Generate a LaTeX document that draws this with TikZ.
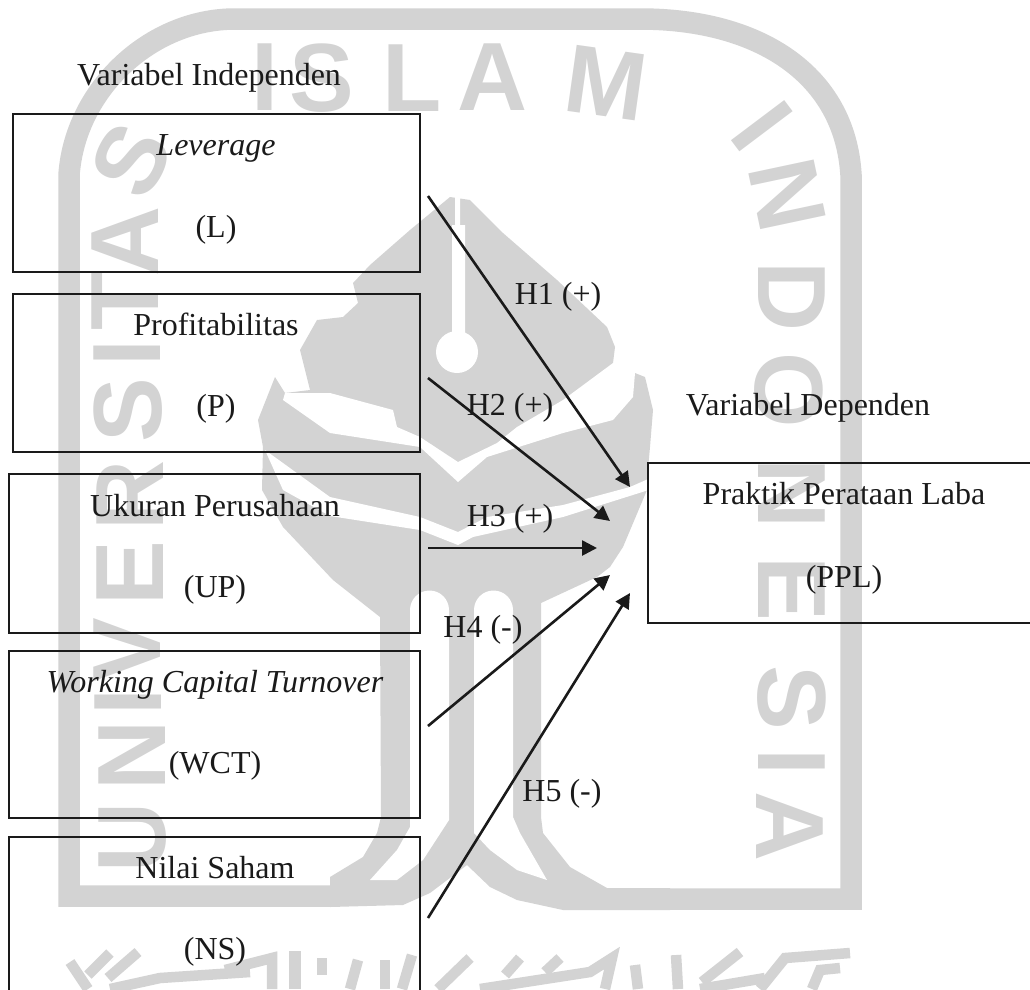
\documentclass[tikz,border=0pt]{standalone}
\usepackage{fontspec}
\setmainfont{Liberation Serif}
\newfontfamily\wmfont{Liberation Sans}
\usetikzlibrary{arrows.meta}
\definecolor{wm}{HTML}{D3D3D3}
\definecolor{ink}{HTML}{1A1A1A}
\tikzset{
  wmfill/.style={fill=wm,draw=none},
  wmpocket/.style={fill=white,draw=none},
  wmband/.style={draw=wm,line width=21.5pt,line join=miter},
  wmstroke/.style={draw=wm,line width=10.5pt},
  wmletter/.style={text=wm,inner sep=0pt,font=\wmfont\bfseries\fontsize{97}{97}\selectfont},
  varbox/.style={draw=ink,line width=1.9pt,rectangle,inner sep=0pt,fill=none},
  lab/.style={text=ink,inner sep=0pt,anchor=base,font=\fontsize{32}{36}\selectfont},
  ilab/.style={lab,font=\fontsize{32}{36}\selectfont\itshape},
  link/.style={draw=ink,line width=2.6pt,-{Triangle[length=15pt,width=15pt]}}
}
\begin{document}
\begin{tikzpicture}[x=1pt,y=-1pt]
\useasboundingbox (0,0) rectangle (1030,989);
% --- watermark: shield outline
\draw[wmband] (660,899) -- (851,899) -- (851,175)
  .. controls (845,75) and (760,19) .. (640,19) -- (235,19)
  .. controls (150,19) and (75,90) .. (69,175) -- (69,896) -- (340,896);
% --- watermark: central emblem
\fill[wmfill] (450,197) -- (470,200) -- (503,233) -- (557,280) -- (607,327) -- (615,347)
  -- (613,363) -- (625,368) -- (635,373) -- (645,377) -- (653,410) -- (650,447) -- (647,480)
  -- (647,490) -- (623,547) -- (610,567) -- (597,577) -- (541,603) -- (541,817) -- (543,833)
  -- (570,867) -- (607,888) -- (670,888) -- (670,910) -- (563,910) -- (517,900) -- (490,887)
  -- (467,865) -- (430,893) -- (403,905) -- (330,907) -- (330,877) -- (363,857) -- (377,833)
  -- (381,817) -- (380,617) -- (333,580) -- (283,527) -- (262,490) -- (263,447) -- (258,420)
  -- (275,377) -- (285,393) -- (310,390) -- (300,350) -- (317,320) -- (343,317) -- (358,303)
  -- (353,283) -- (370,265) -- (410,230) -- cycle;
% stem and ball
\fill[wmpocket] (455,190) -- (460,190) -- (460,225) -- (465,225) -- (465,335) -- (452,335) -- (452,225) -- (455,225) -- cycle;
\fill[wmpocket] (457,352) circle[radius=21];
% first white stripe
\fill[wmpocket] (613,363) -- (563,400) -- (517,427) -- (497,443) -- (458,462) -- (420,437)
  -- (397,427) -- (393,410) -- (330,393) -- (285,393) -- (283,400) -- (330,433) -- (420,447)
  -- (458,482) -- (487,457) -- (563,433) -- (613,420) -- (633,397) -- (635,373) -- (630,358) -- cycle;
% second white stripe
\fill[wmpocket] (265,450) -- (330,497) -- (420,517) -- (458,532) -- (487,517) -- (563,505)
  -- (630,487) -- (655,476) -- (655,488) -- (563,517) -- (473,537) -- (458,545) -- (420,530)
  -- (330,516) -- (283,490) -- cycle;
% pockets between the columns
\fill[wmpocket] (410,827) -- (410,610) arc[start angle=180,end angle=360,radius=19.5] -- (449,820)
  -- (423,860) -- (397,880) -- (370,880) -- (397,850) -- cycle;
\fill[wmpocket] (474,833) -- (474,610) arc[start angle=180,end angle=360,radius=19.5] -- (513,817)
  -- (520,833) -- (547,880) -- (517,870) -- (490,850) -- cycle;
% --- watermark lettering
\node[wmletter] (wI1) at (265,77) {I};
\node[wmletter] (wS1) at (322,78) {S};
\node[wmletter] (wL1) at (412,78) {L};
\node[wmletter] (wA1) at (493,77) {A};
\node[wmletter,rotate=-8] (wM1) at (606,83) {M};
\node[wmletter,rotate=-53] (wI2) at (762,126) {I};
\node[wmletter,rotate=-78] (wN2) at (787,195) {N};
\node[wmletter,rotate=-90] (wD2) at (792,297) {D};
\node[wmletter,rotate=-90] (wO2) at (789,390) {O};
\node[wmletter,rotate=-90] (wN3) at (792,494) {N};
\node[wmletter,rotate=-90] (wE2) at (792,589) {E};
\node[wmletter,rotate=-90] (wS2) at (792,698) {S};
\node[wmletter,rotate=-90] (wI3) at (792,762) {I};
\node[wmletter,rotate=-90] (wA2) at (790,827) {A};
\node[wmletter,rotate=62] (wS3) at (131,160) {S};
\node[wmletter,rotate=90] (wA3) at (125,241) {A};
\node[wmletter,rotate=90] (wT3) at (125,301) {T};
\node[wmletter,rotate=90] (wI4) at (127,353) {I};
\node[wmletter,rotate=90] (wS4) at (128,410) {S};
\node[wmletter,rotate=90] (wR4) at (130,495) {R};
\node[wmletter,rotate=90] (wE4) at (130,573) {E};
\node[wmletter,rotate=90] (wV4) at (127,650) {V};
\node[wmletter,rotate=90] (wI5) at (128,702) {I};
\node[wmletter,rotate=90] (wN5) at (132,755) {N};
\node[wmletter,rotate=90] (wU5) at (133,837) {U};
% --- watermark: calligraphy along the bottom
\draw[wmstroke] (70,962) -- (88,989);
\draw[wmstroke] (110,953) -- (88,975);
\draw[wmstroke] (138,952) -- (108,978);
\draw[wmstroke] (110,989) -- (160,978) -- (250,972);
\draw[wmstroke] (225,970) -- (272,958) -- (272,989);
\draw[wmstroke,line width=12pt] (295,951) -- (295,989);
\draw[wmstroke] (322,958) -- (322,975);
\draw[wmstroke] (358,960) -- (350,989);
\draw[wmstroke] (385,960) -- (385,989);
\draw[wmstroke] (412,955) -- (402,989);
\draw[wmstroke] (470,958) -- (438,989);
\draw[wmstroke] (520,958) -- (505,975);
\draw[wmstroke] (560,958) -- (545,972);
\draw[wmstroke] (480,989) -- (590,972) -- (612,958) -- (605,989);
\draw[wmstroke] (635,965) -- (638,989);
\draw[wmstroke] (676,955) -- (678,989);
\draw[wmstroke] (740,952) -- (702,982);
\draw[wmstroke] (700,989) -- (765,978);
\draw[wmstroke] (760,989) -- (785,958) -- (850,953);
\draw[wmstroke] (812,989) -- (820,970) -- (840,968);
% --- boxes
\node[varbox,minimum width=407pt,minimum height=158pt] (L)   at (216.5,193) {};
\node[varbox,minimum width=407pt,minimum height=158pt] (P)   at (216.5,373) {};
\node[varbox,minimum width=411pt,minimum height=159pt] (UP)  at (214.5,553.5) {};
\node[varbox,minimum width=411pt,minimum height=167pt] (WCT) at (214.5,734.5) {};
\node[varbox,minimum width=411pt,minimum height=190pt] (NS)  at (214.5,932) {};
\node[varbox,minimum width=412pt,minimum height=160pt] (PPL) at (854,543) {};
% --- box texts
\node[lab] (tVI) at (209,85) {Variabel Independen};
\node[ilab] (tL1) at (216,155) {Leverage};
\node[lab] (tL2) at (216,237) {(L)};
\node[lab] (tP1) at (216,335) {Profitabilitas};
\node[lab] (tP2) at (216,416) {(P)};
\node[lab] (tU1) at (215,516) {Ukuran Perusahaan};
\node[lab] (tU2) at (215,597) {(UP)};
\node[ilab] (tW1) at (215,692) {Working Capital Turnover};
\node[lab] (tW2) at (215,773) {(WCT)};
\node[lab] (tN1) at (215,878) {Nilai Saham};
\node[lab] (tN2) at (215,959) {(NS)};
\node[lab] (tVD) at (808,415) {Variabel Dependen};
\node[lab] (tD1) at (844,504) {Praktik Perataan Laba};
\node[lab] (tD2) at (844,587) {(PPL)};
% --- connector ends
\coordinate (s1) at (428,196); \coordinate (e1) at (630,487);
\coordinate (s2) at (428,378); \coordinate (e2) at (610,521);
\coordinate (s3) at (428,548); \coordinate (e3) at (597,548);
\coordinate (s4) at (428,726); \coordinate (e4) at (610,575);
\coordinate (s5) at (428,918); \coordinate (e5) at (630,593);
\draw[link] (s1) -- (e1);
\draw[link] (s2) -- (e2);
\draw[link] (s3) -- (e3);
\draw[link] (s4) -- (e4);
\draw[link] (s5) -- (e5);
% --- hypothesis labels
\node[lab] (h1) at (558,304) {H1 (+)};
\node[lab] (h2) at (510,415) {H2 (+)};
\node[lab] (h3) at (510,526) {H3 (+)};
\node[lab] (h4) at (483,637) {H4 (-)};
\node[lab] (h5) at (562,801) {H5 (-)};
\end{tikzpicture}
\end{document}
